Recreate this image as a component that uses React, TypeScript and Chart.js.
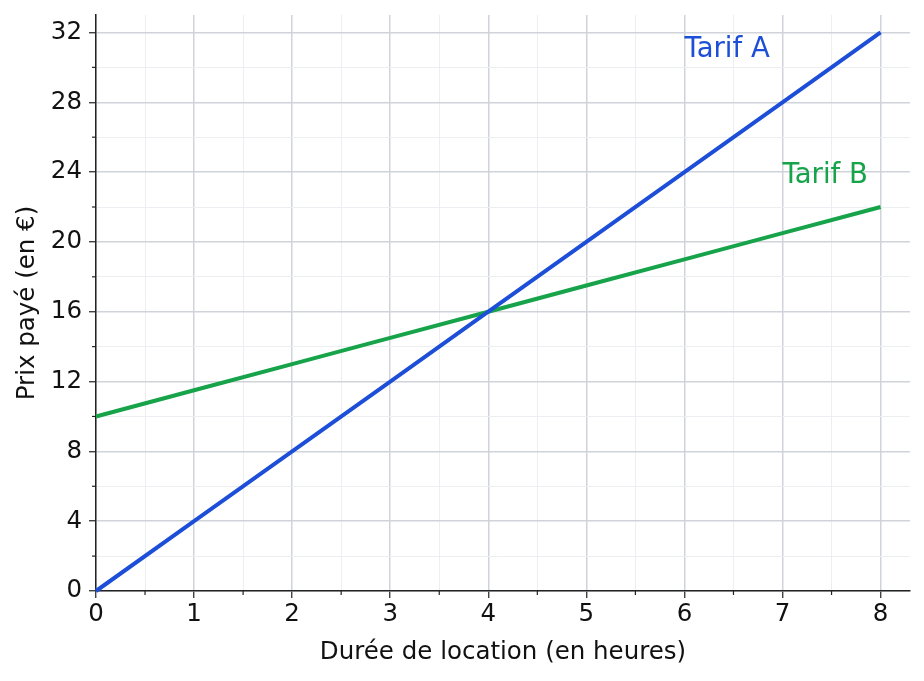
import React, { useEffect, useRef } from "react";
import Chart from "chart.js/auto";

// Durée de location (heures)
const hours = [0, 1, 2, 3, 4, 5, 6, 7, 8];
// Prix payé (€)
const tarifA = [0, 4, 8, 12, 16, 20, 24, 28, 32];
const tarifB = [10, 11.5, 13, 14.5, 16, 17.5, 19, 20.5, 22];

const seriesNames = ["Tarif A", "Tarif B"];
const labelX = [6, 7];
const labelY = [31, 23.8];

const BLUE = "#1d4ed8";
const GREEN = "#16a34a";
const FONT = "'DejaVu Sans', sans-serif";
const MAJOR = "#d0d3da";
const MINOR = "#eceef1";

const annotations = {
  id: "annotations",
  afterDatasetsDraw(chart: any) {
    const { ctx, scales } = chart;
    const colors = [BLUE, GREEN];
    ctx.save();
    ctx.font = `27.5px ${FONT}`;
    ctx.textAlign = "left";
    ctx.textBaseline = "middle";
    seriesNames.forEach((name, i) => {
      ctx.fillStyle = colors[i];
      ctx.fillText(name, scales.x.getPixelForValue(labelX[i]), scales.y.getPixelForValue(labelY[i]));
    });
    ctx.restore();
  },
};

const minorTicks = {
  id: "minorTicks",
  afterDraw(chart: any) {
    const { ctx, scales, chartArea } = chart;
    ctx.save();
    ctx.strokeStyle = "#222";
    ctx.lineWidth = 1.2;
    scales.x.ticks.forEach((t: any) => {
      if (Number.isInteger(t.value)) return;
      const px = scales.x.getPixelForValue(t.value);
      ctx.beginPath();
      ctx.moveTo(px, chartArea.bottom);
      ctx.lineTo(px, chartArea.bottom + 4);
      ctx.stroke();
    });
    scales.y.ticks.forEach((t: any) => {
      if (t.value % 4 === 0) return;
      const py = scales.y.getPixelForValue(t.value);
      ctx.beginPath();
      ctx.moveTo(chartArea.left, py);
      ctx.lineTo(chartArea.left - 4, py);
      ctx.stroke();
    });
    ctx.restore();
  },
};

function PriceChart() {
  const chartRef = useRef<HTMLCanvasElement | null>(null);

  useEffect(() => {
    if (!chartRef.current) return;
    const ctx = chartRef.current.getContext("2d");
    if (!ctx) return;

    const chart = new Chart(ctx, {
      type: "line",
      data: {
        datasets: [
          {
            label: seriesNames[0],
            data: hours.map((h, i) => ({ x: h, y: tarifA[i] })),
            borderColor: BLUE,
            borderWidth: 4,
            pointRadius: 0,
            clip: false as any,
          },
          {
            label: seriesNames[1],
            data: hours.map((h, i) => ({ x: h, y: tarifB[i] })),
            borderColor: GREEN,
            borderWidth: 4,
            pointRadius: 0,
            clip: false as any,
          },
        ],
      },
      options: {
        animation: false,
        responsive: true,
        maintainAspectRatio: false,
        layout: { padding: { top: 15, right: 14, left: 0, bottom: 0 } },
        plugins: { legend: { display: false }, tooltip: { enabled: false } },
        scales: {
          x: {
            type: "linear",
            min: 0,
            max: 8.3,
            afterFit: (s: any) => {
              s.height = 90;
            },
            ticks: {
              stepSize: 0.5,
              includeBounds: false,
              autoSkip: false,
              maxRotation: 0,
              padding: 2,
              color: "#111",
              font: { family: FONT, size: 24.5 },
              callback: (v: any) => (Number.isInteger(v) ? String(v) : ""),
            },
            grid: {
              color: (c: any) => (Number.isInteger(c.tick?.value) ? MAJOR : MINOR),
              lineWidth: (c: any) => (Number.isInteger(c.tick?.value) ? 1.5 : 1),
              tickColor: (c: any) => (Number.isInteger(c.tick?.value) ? "#222" : "transparent"),
              tickLength: 7,
              tickWidth: 1.2,
            },
            border: { color: "#222", width: 1.5 },
            title: {
              display: true,
              text: "Durée de location (en heures)",
              color: "#111",
              font: { family: FONT, size: 24.5 },
              padding: { top: 4, bottom: 14 },
            },
          },
          y: {
            type: "linear",
            min: 0,
            max: 33,
            afterFit: (s: any) => {
              s.width = 96;
              s.paddingTop = 0;
              s.paddingBottom = 0;
            },
            ticks: {
              stepSize: 2,
              includeBounds: false,
              autoSkip: false,
              padding: 7,
              color: "#111",
              font: { family: FONT, size: 24.5 },
              callback: (v: any) => (v % 4 === 0 ? String(v) : ""),
            },
            grid: {
              color: (c: any) => (c.tick?.value % 4 === 0 ? MAJOR : MINOR),
              lineWidth: (c: any) => (c.tick?.value % 4 === 0 ? 1.5 : 1),
              tickColor: (c: any) => (c.tick?.value % 4 === 0 ? "#222" : "transparent"),
              tickLength: 7,
              tickWidth: 1.2,
            },
            border: { color: "#222", width: 1.5 },
            title: {
              display: true,
              text: "Prix payé (en €)",
              color: "#111",
              font: { family: FONT, size: 24.5 },
              padding: { top: 13, bottom: 0 },
            },
          },
        },
      },
      plugins: [annotations, minorTicks],
    });

    return () => {
      chart.destroy();
    };
  }, []);

  return (
    <div style={{ position: "fixed", left: 0, top: 0, width: 924, height: 681, background: "#fff" }}>
      <canvas ref={chartRef} />
    </div>
  );
}

export default function App() {
  return <PriceChart />;
}
